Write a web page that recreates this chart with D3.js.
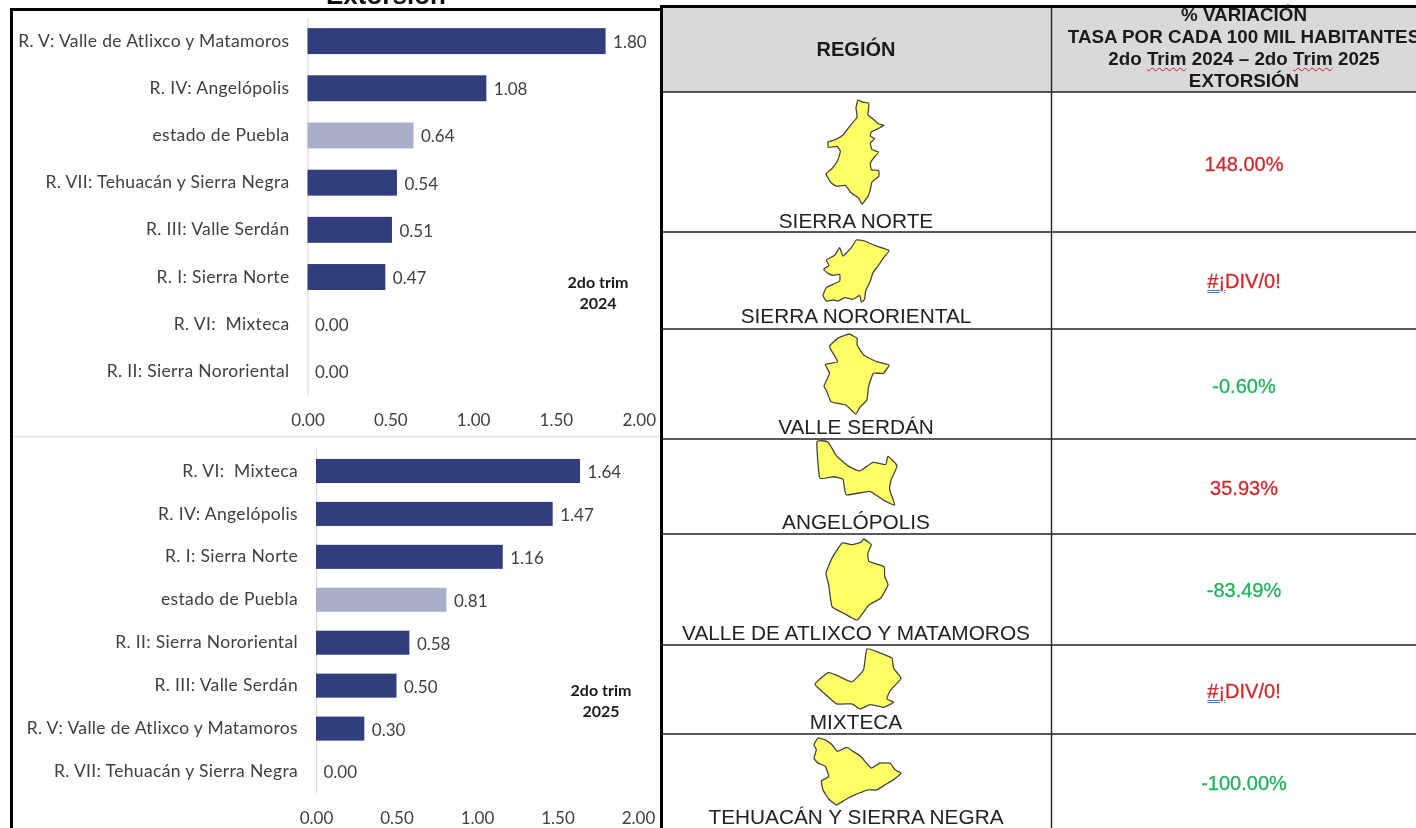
<!DOCTYPE html>
<html>
<head>
<meta charset="utf-8">
<script src="https://cdn.jsdelivr.net/npm/d3@7"></script>
<style>
  html, body { margin: 0; padding: 0; background: #fff; overflow: hidden; }
  #page { position: relative; width: 1416px; height: 828px; overflow: hidden; filter: blur(0.4px); }
  svg { position: absolute; left: 0; top: 0; }
  .head { position: absolute; left: 1051px; width: 386px; text-align: center; white-space: nowrap;
          font: bold 18.8px "Liberation Sans", sans-serif; color: #1a1a1a; }
  .trim { text-decoration: underline wavy #c8201c 1px; text-underline-offset: 2px; }
  .err { position: absolute; left: 1051px; width: 386px; text-align: center;
         font: 20px "Liberation Sans", sans-serif; color: #d02a2e; -webkit-text-stroke: 0.3px #d02a2e; }
  .err span { text-decoration: underline double #4472c4 1px; text-underline-offset: 2px; }
</style>
</head>
<body>
<div id="page"></div>
<script>
var cats2024 = ["R. V: Valle de Atlixco y Matamoros", "R. IV: Angelópolis", "estado de Puebla", "R. VII: Tehuacán y Sierra Negra",
                "R. III: Valle Serdán", "R. I: Sierra Norte", "R. VI:  Mixteca", "R. II: Sierra Nororiental"];
var vals2024 = [1.80, 1.08, 0.64, 0.54, 0.51, 0.47, 0.00, 0.00];

var cats2025 = ["R. VI:  Mixteca", "R. IV: Angelópolis", "R. I: Sierra Norte", "estado de Puebla",
                "R. II: Sierra Nororiental", "R. III: Valle Serdán", "R. V: Valle de Atlixco y Matamoros", "R. VII: Tehuacán y Sierra Negra"];
var vals2025 = [1.64, 1.47, 1.16, 0.81, 0.58, 0.50, 0.30, 0.00];

var xTicks = [0, 0.5, 1, 1.5, 2];

var regions = ["SIERRA NORTE", "SIERRA NORORIENTAL", "VALLE SERDÁN", "ANGELÓPOLIS",
               "VALLE DE ATLIXCO Y MATAMOROS", "MIXTECA", "TEHUACÁN Y SIERRA NEGRA"];
var variation = ["148.00%", "#¡DIV/0!", "-0.60%", "35.93%", "-83.49%", "#¡DIV/0!", "-100.00%"];

var headLines = ["% VARIACIÓN", "TASA POR CADA 100 MIL HABITANTES", "2do Trim 2024 – 2do Trim 2025", "EXTORSIÓN"];

// region silhouettes, traced by eye, units are arbitrary (fitted to a box below)
var outlines = [
  [[128,16],[140,22],[160,25],[160,40],[158,60],[172,72],[190,88],[206,92],[192,100],[168,112],[165,125],[178,132],[165,145],[170,165],[190,172],[175,190],[165,205],[168,225],[190,228],[190,245],[170,262],[165,285],[158,305],[140,328],[130,310],[108,295],[90,272],[65,275],[48,265],[32,238],[50,222],[68,195],[75,170],[65,155],[40,158],[38,142],[60,135],[82,122],[105,92],[125,68],[122,40]],
  [[140,12],[165,15],[195,28],[238,43],[222,65],[205,90],[190,110],[182,135],[168,165],[165,190],[155,198],[150,178],[130,190],[105,185],[85,195],[70,192],[50,195],[40,178],[50,155],[70,145],[90,135],[90,115],[70,118],[55,112],[42,100],[58,88],[50,72],[75,58],[90,35],[100,60],[125,35]],
  [[565,312],[578,318],[590,325],[590,345],[610,375],[650,395],[688,405],[670,430],[640,430],[625,470],[620,510],[600,530],[585,552],[555,525],[510,515],[495,480],[488,468],[505,430],[492,403],[530,395],[505,350],[530,325]],
  [[472,640],[505,640],[530,680],[565,710],[600,725],[640,700],[678,706],[685,682],[712,710],[695,750],[690,780],[705,825],[670,810],[630,785],[560,795],[550,750],[520,742],[480,745]],
  [[545,40],[575,45],[600,38],[610,28],[632,45],[622,70],[625,95],[670,110],[672,140],[682,165],[660,205],[625,225],[590,270],[550,250],[515,230],[505,165],[497,130],[515,85]],
  [[620,358],[660,370],[695,385],[700,415],[722,445],[690,480],[680,505],[700,515],[670,530],[630,522],[600,535],[575,520],[530,520],[500,495],[465,462],[505,428],[540,440],[575,455],[610,420]],
  [[40,10],[60,15],[82,30],[98,50],[125,38],[145,50],[168,65],[185,85],[200,100],[225,85],[255,85],[270,105],[288,115],[265,135],[240,150],[215,165],[190,165],[150,180],[120,195],[95,210],[72,192],[55,165],[50,138],[72,125],[62,95],[40,85],[28,70],[35,45],[28,30]]
];

var page = d3.select("#page");
var svg = page.append("svg").attr("width", 1416).attr("height", 828);
var labelFont = "Lato, 'Open Sans', sans-serif";
var tableFont = "'Liberation Sans', Arial, sans-serif";

function drawBars(cats, vals, o) {
  var x = d3.scaleLinear().domain([0, 2]).range([o.x0, o.x1]);
  var y = d3.scaleBand().domain(cats).range([o.top, o.bottom]).paddingInner(o.pad).paddingOuter(o.pad / 2);
  var g = svg.append("g");

  var yAxis = d3.axisLeft(y).tickSize(0).tickPadding(18);
  var ya = g.append("g").attr("transform", "translate(" + o.x0 + ",0)").call(yAxis);
  ya.select(".domain").attr("stroke", "#d9d9d9");
  ya.selectAll("text").attr("fill", "#404040")
      .style("font", "17.5px " + labelFont)
      .style("letter-spacing", "0.34px")
      .style("white-space", "pre");

  var xAxis = d3.axisBottom(x).tickValues(xTicks).tickFormat(d3.format(".2f")).tickSize(0).tickPadding(0);
  var xa = g.append("g").attr("transform", "translate(0," + o.axisY + ")").call(xAxis);
  xa.select(".domain").remove();
  xa.selectAll("text").attr("fill", "#404040").style("font", "17px " + labelFont);

  g.selectAll("rect.bar").data(vals).join("rect")
      .attr("class", "bar")
      .attr("x", x(0))
      .attr("y", function (d, i) { return y(cats[i]); })
      .attr("width", function (d) { return x(d) - x(0); })
      .attr("height", y.bandwidth())
      .attr("fill", function (d, i) { return cats[i] === "estado de Puebla" ? "#a9aecb" : "#313d7d"; });

  g.selectAll("text.val").data(vals).join("text")
      .attr("class", "val")
      .attr("x", function (d) { return x(d) + 7.5; })
      .attr("y", function (d, i) { return y(cats[i]) + y.bandwidth() / 2 + 1; })
      .attr("dy", "0.35em")
      .attr("fill", "#404040")
      .style("font", "17px " + labelFont)
      .text(function (d) { return d3.format(".2f")(d); });

  var note = g.append("text").attr("text-anchor", "middle").attr("fill", "#1a1a1a")
      .style("font", "bold 16px " + labelFont);
  note.selectAll("tspan").data(o.note).join("tspan")
      .attr("x", o.noteX)
      .attr("y", function (d, i) { return o.noteY + i * 21; })
      .text(function (d) { return d; });
}

drawBars(cats2024, vals2024, { x0: 307.5, x1: 638.7, top: 17.5, bottom: 395, pad: 0.45, axisY: 414, noteX: 598, noteY: 288, note: ["2do trim", "2024"] });
drawBars(cats2025, vals2025, { x0: 316, x1: 638, top: 449.5, bottom: 793, pad: 0.44, axisY: 812, noteX: 601, noteY: 696, note: ["2do trim", "2025"] });

// divider between the two charts and the frame round them
svg.append("line").attr("x1", 13).attr("x2", 660).attr("y1", 436.5).attr("y2", 436.5).attr("stroke", "#e4e4e4").attr("stroke-width", 1.5);

svg.append("text").attr("x", 386).attr("y", 4).attr("text-anchor", "middle")
    .attr("fill", "#111").style("font", "bold 26px " + tableFont).text("Extorsión");

svg.append("path").attr("d", "M11.5,828V9.5H661.5").attr("fill", "none").attr("stroke", "#000").attr("stroke-width", 3);

// table on the right
var rowLines = [92, 232, 329, 439, 534, 645, 734];
var rowLabelY = [221, 316, 427, 522, 633, 722, 817];
var rowValueY = [164, 281, 386, 488, 590, 691, 783];
var shapeBoxes = [[826, 100, 884, 204], [823, 240, 889, 302], [824, 334, 889, 414], [817, 442, 897, 505],
                  [826, 539, 888, 620], [815, 649, 901, 709], [814, 738, 901, 805]];

svg.append("rect").attr("x", 663).attr("y", 7).attr("width", 753).attr("height", 85).attr("fill", "#d9d9d9");

svg.selectAll("line.row").data(rowLines).join("line")
    .attr("class", "row")
    .attr("x1", 663).attr("x2", 1416)
    .attr("y1", function (d) { return d; }).attr("y2", function (d) { return d; })
    .attr("stroke", "#222").attr("stroke-width", 1.6);

svg.append("line").attr("x1", 1051.5).attr("x2", 1051.5).attr("y1", 7).attr("y2", 828).attr("stroke", "#222").attr("stroke-width", 1.4);
svg.append("path").attr("d", "M661.5,828V6.5H1416").attr("fill", "none").attr("stroke", "#000").attr("stroke-width", 3);

svg.append("text").attr("x", 856).attr("y", 49).attr("dy", "0.35em").attr("text-anchor", "middle")
    .attr("fill", "#1a1a1a").style("font", "bold 20px " + tableFont).text("REGIÓN");

var headY = [15, 37, 59, 81];
headLines.forEach(function (t, i) {
  var d = page.append("div").attr("class", "head").style("top", (headY[i] - 10) + "px").style("line-height", "20px");
  if (t.indexOf("Trim") < 0) { d.text(t); return; }
  t.split("Trim").forEach(function (part, j) {
    if (j > 0) d.append("span").attr("class", "trim").text("Trim");
    d.append("span").text(part);
  });
});

outlines.forEach(function (pts, i) {
  var b = shapeBoxes[i];
  var sx = d3.scaleLinear().domain(d3.extent(pts, function (p) { return p[0]; })).range([b[0], b[2]]);
  var sy = d3.scaleLinear().domain(d3.extent(pts, function (p) { return p[1]; })).range([b[1], b[3]]);
  var line = d3.line().x(function (p) { return sx(p[0]); }).y(function (p) { return sy(p[1]); })
      .curve(d3.curveCardinalClosed.tension(0.6));
  svg.append("path").attr("d", line(pts)).attr("fill", "#ffff66").attr("stroke", "#444").attr("stroke-width", 1.3);
});

svg.selectAll("text.region").data(regions).join("text")
    .attr("class", "region")
    .attr("x", 856)
    .attr("y", function (d, i) { return rowLabelY[i]; })
    .attr("dy", "0.35em")
    .attr("text-anchor", "middle")
    .attr("fill", "#222")
    .style("font", "20.8px " + tableFont)
    .text(function (d) { return d; });

variation.forEach(function (v, i) {
  if (v.charAt(0) === "#") {
    var d = page.append("div").attr("class", "err").style("top", (rowValueY[i] - 12) + "px").style("line-height", "24px");
    d.append("span").text(v.slice(0, 2));
    d.append("b").style("font-weight", "normal").text(v.slice(2));
    return;
  }
  var c = v.charAt(0) === "-" ? "#23b15d" : "#d02a2e";
  svg.append("text").attr("x", 1244).attr("y", rowValueY[i]).attr("dy", "0.35em").attr("text-anchor", "middle")
      .attr("fill", c).attr("stroke", c).attr("stroke-width", 0.3)
      .style("font", "20px " + tableFont)
      .text(v);
});
</script>
</body>
</html>
